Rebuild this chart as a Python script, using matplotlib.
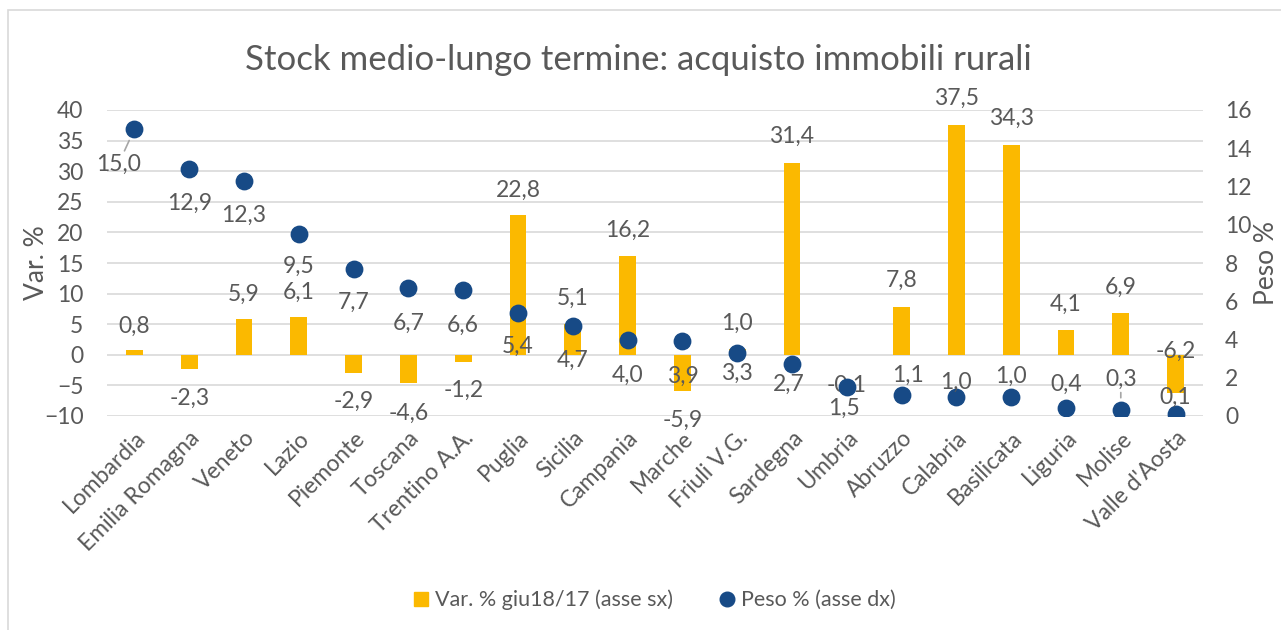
import matplotlib
matplotlib.use("Agg")
import matplotlib.pyplot as plt
from matplotlib.patches import Rectangle
from matplotlib.lines import Line2D
import numpy as np

regioni = ["Lombardia", "Emilia Romagna", "Veneto", "Lazio", "Piemonte", "Toscana",
           "Trentino A.A.", "Puglia", "Sicilia", "Campania", "Marche", "Friuli V.G.",
           "Sardegna", "Umbria", "Abruzzo", "Calabria", "Basilicata", "Liguria",
           "Molise", "Valle d'Aosta"]
var_pct = [0.8, -2.3, 5.9, 6.1, -2.9, -4.6, -1.2, 22.8, 5.1, 16.2, -5.9, 1.0,
           31.4, -0.1, 7.8, 37.5, 34.3, 4.1, 6.9, -6.2]
peso_pct = [15.0, 12.9, 12.3, 9.5, 7.7, 6.7, 6.6, 5.4, 4.7, 4.0, 3.9, 3.3,
            2.7, 1.5, 1.1, 1.0, 1.0, 0.4, 0.3, 0.1]

# label offsets in pixels (as placed by hand in the original)
bar_lab_dy = [24, -29, 24, 25, -29, -30, -28, 25, 25, 25, -29, 25,
              26, -30, 27, 27, 27, 25, 25, 41]
dot_lab_dy = [-35, -34, -35, -32, -34, -35, -36, -34, -34, -36, -35, -20,
              -20, -21, 20, 15, 21, 24, 31, 17]
dot_lab_dx = [-16, 0, 0, 0, 0, 0, 0, 0, 0, 0, 0, 0, -3, -3, 6, 0, 0, 0, 0, 0]

GOLD = "#FBB900"
BLUE = "#174A86"
TXT = "#595959"
GRID = "#D9D9D9"
FS = 16.5
plt.rcParams['font.family'] = ['Lato', 'DejaVu Sans']

def fmt(v):
    return f"{v:.1f}".replace(".", ",")

fig = plt.figure(figsize=(12.81, 6.30), dpi=100)
fig.patches.append(Rectangle((8/1281, -0.1), 1.2, 1 - 10/630 + 0.1, transform=fig.transFigure,
                             fill=False, edgecolor=GRID, linewidth=1.2))

ax = fig.add_axes([107/1281, 1 - 416/630, (1203 - 107)/1281, (416 - 110)/630])
ax2 = ax.twinx()

x = np.arange(len(regioni))
ax.bar(x, var_pct, width=0.31, color=GOLD, zorder=2)
ax.set_ylim(-10, 40)
ax.set_yticks(range(-10, 41, 5))
ax.set_xlim(-0.5, len(regioni) - 0.5)
ax.grid(axis='y', color=GRID, linewidth=1.2, zorder=0)
ax.set_axisbelow(True)
for s in ax.spines.values():
    s.set_visible(False)
for s in ax2.spines.values():
    s.set_visible(False)
ax.tick_params(axis='y', length=0, labelsize=FS, labelcolor=TXT, pad=17)
ax.tick_params(axis='x', length=0, labelsize=FS, labelcolor=TXT, pad=8)
ax.set_xticks(x)
ax.set_xticklabels(regioni, rotation=45, ha='right', rotation_mode='anchor')

ax2.scatter(x, peso_pct, s=140, color=BLUE, zorder=3)
ax2.set_ylim(0, 16)
ax2.set_yticks(range(0, 17, 2))
ax2.tick_params(axis='y', length=0, labelsize=FS, labelcolor=TXT, pad=16)

fig.text(37/1281, 1 - 263/630, "Var. %", rotation=90, ha='center', va='center',
         fontsize=19, color=TXT)
fig.text(1267/1281, 1 - 263/630, "Peso %", rotation=90, ha='center', va='center',
         fontsize=19, color=TXT)

for i, v in enumerate(var_pct):
    ax.annotate(fmt(v), (i, v), xytext=(0, bar_lab_dy[i]), textcoords='offset pixels',
                ha='center', va='center', fontsize=FS, color=TXT)

for i, p in enumerate(peso_pct):
    lead = dict(arrowstyle='-', color='#A6A6A6', lw=1.2, shrinkA=0, shrinkB=9) \
        if i in (0, 18) else None
    ax2.annotate(fmt(p), (i, p), xytext=(dot_lab_dx[i], dot_lab_dy[i]), textcoords='offset pixels',
                 ha='center', va='center', fontsize=FS, color=TXT, arrowprops=lead, zorder=4)

fig.text(638/1281, 1 - 60/630, "Stock medio-lungo termine: acquisto immobili rurali",
         ha='center', va='center', fontsize=25, color=TXT)

handles = [Line2D([], [], marker='s', linestyle='none', color=GOLD, markersize=10.5),
           Line2D([], [], marker='o', linestyle='none', color=BLUE, markersize=10.5)]
fig.legend(handles, ["Var. % giu18/17 (asse sx)", "Peso % (asse dx)"],
           loc='center', bbox_to_anchor=(652/1281, 1 - 600/630), ncol=2, frameon=False,
           fontsize=15.5, labelcolor=TXT, handletextpad=0.05, columnspacing=1.9, handlelength=1.2)

fig.savefig("out.png", dpi=100)
